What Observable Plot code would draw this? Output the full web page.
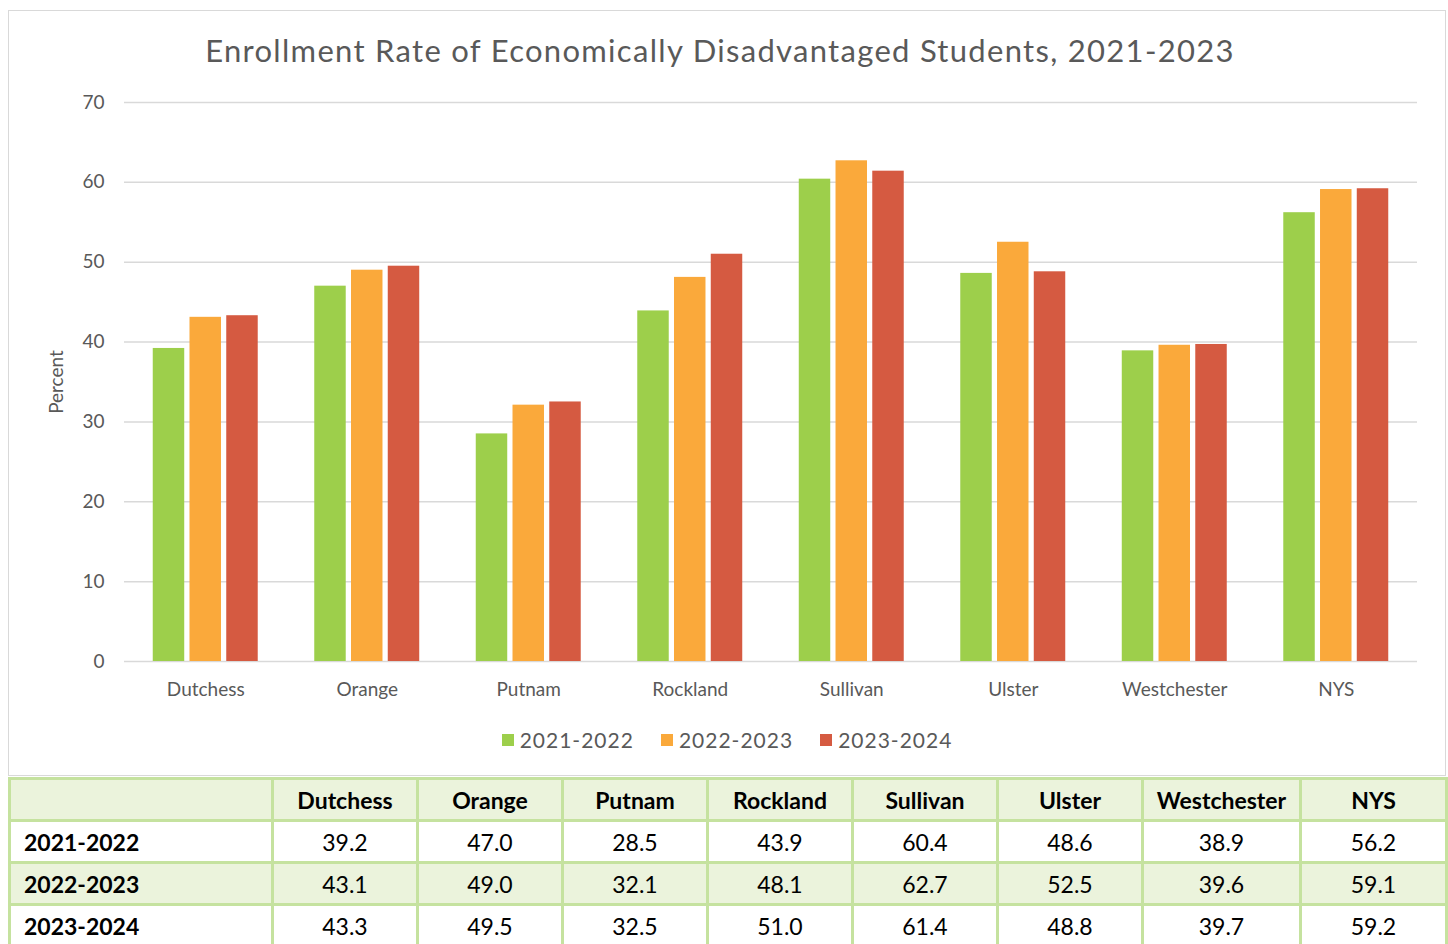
<!DOCTYPE html>
<html><head><meta charset="utf-8">
<script src="https://cdn.jsdelivr.net/npm/d3@7"></script>
<script src="https://cdn.jsdelivr.net/npm/@observablehq/plot@0.6"></script>
<style>
body{margin:0;background:#fff;font-family:Lato,"Noto Sans",sans-serif;width:1448px;height:944px;overflow:hidden;position:relative}
#box{position:absolute;left:8px;top:10px;width:1436px;height:764px;border:1px solid #d9d9d9;}
#title{position:absolute;left:-7px;width:100%;top:20px;text-align:center;font-size:31px;color:#595959;letter-spacing:1.3px}
#chart{position:absolute;left:0;top:69px}
#legend{position:absolute;top:716px;left:0;width:100%;display:flex;justify-content:center;gap:27px;font-size:21px;color:#595959;letter-spacing:1px}
#legend span.sw{display:inline-block;width:12px;height:12px;margin-right:6px}
#tbl{position:absolute;left:8px;top:777px;border-collapse:collapse;font-size:23px;color:#000;table-layout:fixed;width:1437px}
#tbl td{border:3px solid #c5e29f;height:39px;padding:0;text-align:center}
#tbl td.rh{text-align:left;padding-left:13px;font-weight:700}
#tbl tr.hd td{font-weight:700;background:#ebf3dc}
#tbl tr.alt td{background:#ebf3dc}
</style></head>
<body>
<div id="box">
  <div id="title">Enrollment Rate of Economically Disadvantaged Students, 2021-2023</div>
  <div id="chart"></div>
  <div id="legend"></div>
</div>
<table id="tbl"></table>
<script>
const counties = ["Dutchess","Orange","Putnam","Rockland","Sullivan","Ulster","Westchester","NYS"];
const years = ["2021-2022","2022-2023","2023-2024"];
const v2021 = [39.2,47.0,28.5,43.9,60.4,48.6,38.9,56.2];
const v2022 = [43.1,49.0,32.1,48.1,62.7,52.5,39.6,59.1];
const v2023 = [43.3,49.5,32.5,51.0,61.4,48.8,39.7,59.2];
const colors = ["#9dcf4b","#faa93b","#d55a41"];
const yTicks = [0,10,20,30,40,50,60,70];

const series = [v2021, v2022, v2023];
const data = [];
series.forEach((vals, i) => counties.forEach((c, j) => data.push({county:c, year:years[i], value:vals[j]})));

const step = 36.75;
const font = "Lato, 'Noto Sans', sans-serif";
const chart = Plot.plot({
  width: 1436, height: 630,
  marginLeft: 115, marginRight: 28, marginTop: 22, marginBottom: 49,
  style: {fontFamily: font, fontSize: "19px", color: "#595959", background: "transparent"},
  x: {domain: counties, paddingInner: 0.35, paddingOuter: 0.178, round: false, label: null},
  y: {domain: [0,70], label: null},
  color: {domain: years, range: colors},
  marks: [
    Plot.ruleY(yTicks, {stroke: "#d9d9d9", strokeWidth: 1.5}),
    ...years.map((yr, i) => Plot.barY(data.filter(d => d.year === yr), {
      x: "county", y: "value", fill: "year",
      insetLeft: i*step, insetRight: (2-i)*step
    })),
    Plot.axisY(yTicks, {tickSize: 0, tickPadding: 20, label: null, fontSize: 19, letterSpacing: 1}),
    Plot.axisX({tickSize: 0, tickPadding: 21, label: null, fontSize: 19, letterSpacing: 0.5}),
    Plot.text(["Percent"], {frameAnchor: "left", textAnchor: "middle", dx: -68, rotate: -90, fontSize: 19, fill: "#595959", letterSpacing: 0.5})
  ]
});
document.getElementById("chart").appendChild(chart);

const legend = document.getElementById("legend");
years.forEach((y, i) => {
  const item = document.createElement("div");
  item.style.display = "flex"; item.style.alignItems = "center";
  item.innerHTML = `<span class="sw" style="background:${colors[i]}"></span>${y}`;
  legend.appendChild(item);
});

const widths = [263,145,145,145,145,145,145,158,146];
const tbl = document.getElementById("tbl");
const cg = document.createElement("colgroup");
cg.innerHTML = widths.map(w => `<col style="width:${w}px">`).join("");
tbl.appendChild(cg);
const hd = document.createElement("tr"); hd.className = "hd";
hd.innerHTML = `<td></td>` + counties.map(c => `<td>${c}</td>`).join("");
tbl.appendChild(hd);
series.forEach((vals, i) => {
  const tr = document.createElement("tr");
  if (i === 1) tr.className = "alt";
  tr.innerHTML = `<td class="rh">${years[i]}</td>` + vals.map(v => `<td>${v.toFixed(1)}</td>`).join("");
  tbl.appendChild(tr);
});
</script>
</body></html>
